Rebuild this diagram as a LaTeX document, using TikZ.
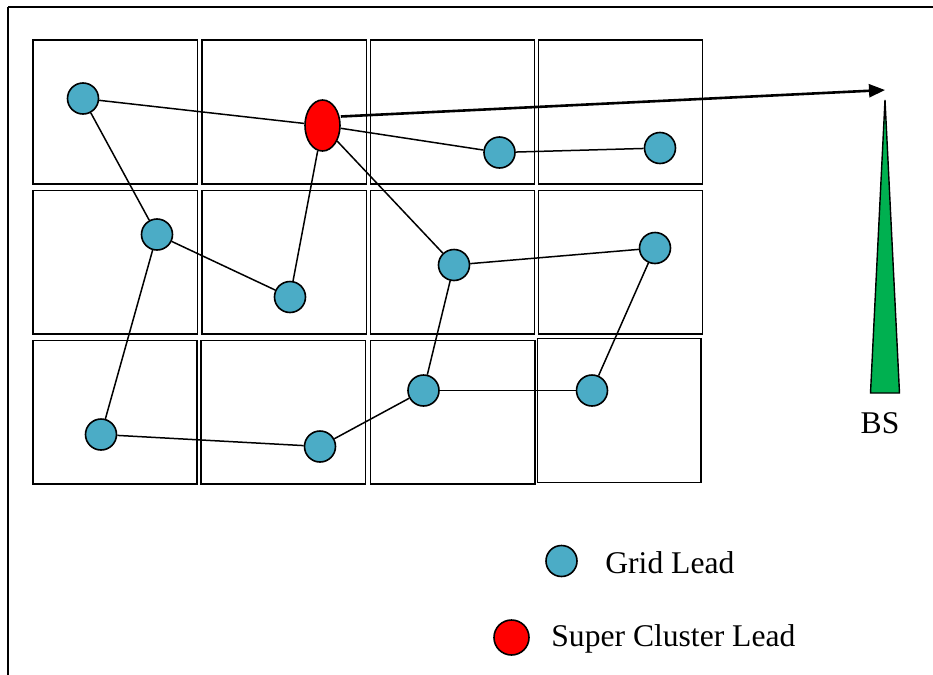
\documentclass[tikz,border=0pt]{standalone}
\usepackage{fontspec}
\setmainfont{Liberation Serif}
\usetikzlibrary{shapes.geometric,arrows.meta}
\definecolor{gridblue}{HTML}{4BACC6}
\definecolor{bsgreen}{HTML}{00B050}
\tikzset{
  cell/.style={draw, line width=0.95pt},
  gridlead/.style={circle, draw, line width=0.8pt, fill=gridblue, minimum size=15.5pt, inner sep=0pt},
  superlead/.style={ellipse, draw, line width=0.8pt, fill=red, minimum width=17.5pt, minimum height=25.5pt, inner sep=0pt},
  link/.style={line width=0.75pt},
  label/.style={font=\fontsize{15.8}{18}\selectfont, anchor=base west, inner sep=0pt},
}
\begin{document}
\begin{tikzpicture}[x=0.5pt, y=-0.5pt]
\useasboundingbox (0,0) rectangle (933,675);
\begin{scope}
\clip (0,0) rectangle (933,675);
% outer frame, running off the page to the right and bottom
\draw[line width=1.0pt] (8,7) -- (960,7);
\draw[line width=0.8pt] (8,7) -- (8,700);
\end{scope}

% grid of cells
\draw[cell] (33,40) rectangle (197.5,184);
\draw[cell] (202,40) rectangle (366.5,184);
\draw[cell] (370.5,40) rectangle (534.5,184);
\draw[cell] (538.5,40) rectangle (702.5,184);

\draw[cell] (33,190.5) rectangle (197.5,334);
\draw[cell] (202,190.5) rectangle (366.5,334);
\draw[cell] (370.5,190.5) rectangle (534.5,334);
\draw[cell] (538.5,190.5) rectangle (702.5,334);

\draw[cell] (33,340.5) rectangle (197,484);
\draw[cell] (201,340.5) rectangle (365.5,484);
\draw[cell] (370.5,340.5) rectangle (535,484);
\draw[cell] (537.5,338.5) rectangle (701,482.5);

% leads
\node[gridlead] (a) at (83,98.5) {};
\node[superlead] (s) at (322.5,125.5) {};
\node[gridlead] (b) at (499.5,152.5) {};
\node[gridlead] (c) at (660,148) {};
\node[gridlead] (d) at (157,234.5) {};
\node[gridlead] (e) at (290,297) {};
\node[gridlead] (f) at (454,265) {};
\node[gridlead] (g) at (655,248) {};
\node[gridlead] (h) at (101,434.5) {};
\node[gridlead] (i) at (320,446.5) {};
\node[gridlead] (j) at (423.5,390.5) {};
\node[gridlead] (k) at (592,390.5) {};

% links between leads
\draw[link] (a) -- (s);
\draw[link] (a) -- (d);
\draw[link] (d) -- (e);
\draw[link] (d) -- (h);
\draw[link] (e) -- (s);
\draw[link] (s) -- (b);
\draw[link] (s) -- (f);
\draw[link] (b) -- (c);
\draw[link] (f) -- (g);
\draw[link] (f) -- (j);
\draw[link] (g) -- (k);
\draw[link] (j) -- (k);
\draw[link] (j) -- (i);
\draw[link] (i) -- (h);

% base station
\coordinate (tip) at (885,90);
\draw[line width=1.3pt, -{Triangle[length=8pt, width=6.5pt]}] (s.east) ++(0,-9) -- (tip);
\draw[fill=bsgreen, line width=0.7pt] (885,100) -- (899.5,393) -- (870.5,393) -- cycle;
\node[font=\fontsize{15.8}{18}\selectfont, inner sep=0pt] (bs) at (880,423) {BS};

% legend
\node[gridlead] (lg) at (561.5,561) {};
\node[label] (lgt) at (605,573) {Grid Lead};
\node[superlead, minimum width=17.5pt, minimum height=17.5pt] (ls) at (511.5,637.5) {};
\node[label] (lst) at (551,646.5) {Super Cluster Lead};
\end{tikzpicture}
\end{document}
